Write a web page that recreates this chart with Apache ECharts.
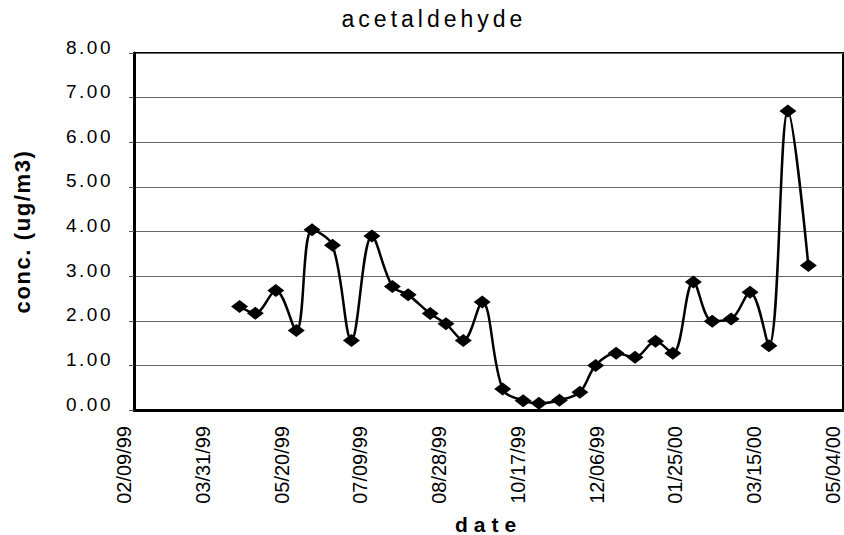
<!DOCTYPE html>
<html>
<head>
<meta charset="utf-8">
<script src="https://cdn.jsdelivr.net/npm/echarts@6/dist/echarts.min.js"></script>
<style>
  html, body { margin: 0; padding: 0; background: #fff; }
  #chart { width: 844px; height: 535px; }
  text[style*="ttlf"] { letter-spacing: 4px; }
  text[style*="ylab"] { letter-spacing: 2.5px; }
  text[style*="ynam"] { letter-spacing: 1.6px; }
  text[style*="xnam"] { letter-spacing: 6px; }
</style>
</head>
<body>
<div id="chart"></div>
<script>
// ---- data ----
const axisStartDate = '1999-02-09';
const xTickLabels = ['02/09/99', '03/31/99', '05/20/99', '07/09/99', '08/28/99',
                     '10/17/99', '12/06/99', '01/25/00', '03/15/00', '05/04/00'];
const sampleDates = [
  '1999-04-17', '1999-04-27', '1999-05-10', '1999-05-23', '1999-06-02',
  '1999-06-15', '1999-06-27', '1999-07-10', '1999-07-23', '1999-08-02',
  '1999-08-16', '1999-08-26', '1999-09-06', '1999-09-18', '1999-10-01',
  '1999-10-14', '1999-10-24', '1999-11-06', '1999-11-19', '1999-11-29',
  '1999-12-12', '1999-12-24', '2000-01-06', '2000-01-17', '2000-01-30',
  '2000-02-11', '2000-02-23', '2000-03-06', '2000-03-18', '2000-03-30',
  '2000-04-12'
];
const concValues = [
  2.32, 2.17, 2.68, 1.78, 4.04,
  3.69, 1.56, 3.90, 2.77, 2.58,
  2.16, 1.93, 1.56, 2.42, 0.47,
  0.21, 0.15, 0.22, 0.40, 1.00,
  1.27, 1.18, 1.54, 1.27, 2.87,
  1.99, 2.04, 2.64, 1.44, 6.70,
  3.24
];
const titleText = 'acetaldehyde';
const yAxisName = 'conc. (ug/m3)';
const xAxisName = 'date';

// ---- helpers ----
const DAY = 86400000;
function dayOffset(s) {
  const a = s.split('-').map(Number), b = axisStartDate.split('-').map(Number);
  return Math.round((Date.UTC(a[0], a[1] - 1, a[2]) - Date.UTC(b[0], b[1] - 1, b[2])) / DAY);
}
const seriesData = sampleDates.map((d, i) => [dayOffset(d), concValues[i]]);
const tickStep = 50;

const chart = echarts.init(document.getElementById('chart'), null, { renderer: 'svg' });
chart.setOption({
  backgroundColor: '#ffffff',
  animation: false,
  title: {
    text: titleText,
    left: 434,
    top: 7,
    padding: 0,
    textAlign: 'center',
    textStyle: { fontSize: 23, fontWeight: 'normal', color: '#000', fontFamily: "'Liberation Sans', ttlf" }
  },
  grid: {
    left: 134, right: 1, top: 53, bottom: 125,
    show: true, borderColor: '#000', borderWidth: 2,
    containLabel: false,
    outerBoundsMode: 'none'
  },
  xAxis: {
    type: 'value',
    min: 0, max: tickStep * (xTickLabels.length - 1), interval: tickStep,
    name: xAxisName,
    nameLocation: 'middle',
    nameGap: 104,
    nameTextStyle: { fontSize: 21, fontWeight: 'bold', color: '#000', fontFamily: "'Liberation Sans', xnam" },
    axisLine: { show: true, lineStyle: { color: '#000', width: 3 } },
    axisTick: { show: false },
    splitLine: { show: false },
    axisLabel: {
      rotate: 90,
      margin: 16,
      verticalAlign: 'bottom',
      lineHeight: 20,
      fontSize: 20,
      color: '#000',
      fontFamily: "'Liberation Sans'",
      showMinLabel: true, showMaxLabel: true,
      formatter: v => xTickLabels[Math.round(v / tickStep)]
    }
  },
  yAxis: {
    type: 'value',
    min: 0, max: 8, interval: 1,
    name: yAxisName,
    nameLocation: 'middle',
    nameRotate: 90,
    nameGap: 101,
    nameTextStyle: { fontSize: 22, fontWeight: 'bold', color: '#000', fontFamily: "'Liberation Sans', ynam" },
    axisLine: { show: true, lineStyle: { color: '#000', width: 3 } },
    axisTick: { show: true, inside: false, length: 5, lineStyle: { color: '#555', width: 1 } },
    splitLine: { show: true, lineStyle: { color: '#666', width: 1 } },
    axisLabel: {
      margin: 21,
      verticalAlign: 'bottom',
      lineHeight: 12,
      fontSize: 19,
      color: '#000',
      fontFamily: "'Liberation Sans', ylab",
      formatter: v => v.toFixed(2)
    }
  },
  series: [{
    type: 'line',
    data: seriesData,
    smooth: 0.35,
    symbol: 'diamond',
    symbolSize: [17, 13],
    showAllSymbol: true,
    itemStyle: { color: '#000' },
    lineStyle: { color: '#000', width: 2.5 }
  }]
});
</script>
</body>
</html>
